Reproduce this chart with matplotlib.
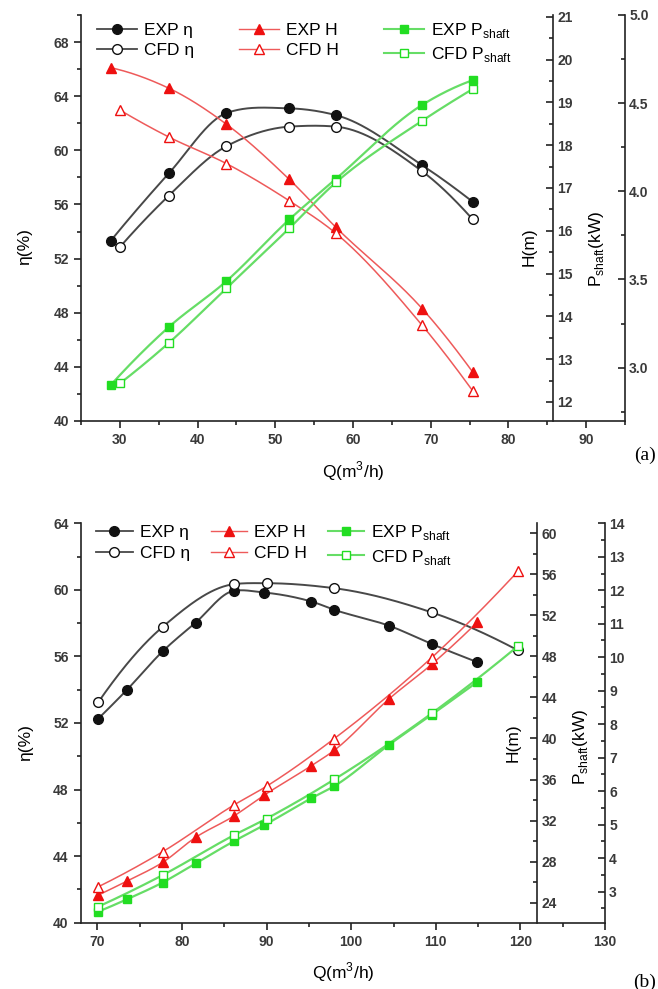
import numpy as np
import matplotlib
matplotlib.use("Agg")
import matplotlib.pyplot as plt
from matplotlib.lines import Line2D
from matplotlib.ticker import MultipleLocator

plt.rcParams['font.family'] = ['Liberation Sans', 'DejaVu Sans']
plt.rcParams['mathtext.fontset'] = 'custom'
plt.rcParams['mathtext.rm'] = 'Liberation Sans'

# ---------------- data: panel (a) ----------------
qa_exp = [28.8, 36.3, 43.7, 51.8, 57.8, 68.9, 75.4]
qa_cfd = [30.0, 36.3, 43.7, 51.8, 57.8, 68.9, 75.4]
eta_a_exp = [53.3, 58.3, 62.75, 63.1, 62.6, 58.9, 56.2]
eta_a_cfd = [52.85, 56.65, 60.3, 61.75, 61.75, 58.45, 54.9]
h_a_exp = [19.81, 19.33, 18.49, 17.2, 16.08, 14.18, 12.70]
h_a_cfd = [18.82, 18.19, 17.57, 16.70, 15.94, 13.79, 12.26]
p_a_exp = [2.90, 3.23, 3.49, 3.84, 4.07, 4.49, 4.63]
p_a_cfd = [2.91, 3.14, 3.45, 3.79, 4.05, 4.40, 4.58]

# ---------------- data: panel (b) ----------------
qb_exp = [70.1, 73.5, 77.7, 81.6, 86.1, 89.7, 95.3, 98.0, 104.5, 109.5, 114.9]
qb_cfd = [70.1, 77.7, 86.1, 90.0, 98.0, 109.5, 119.7]
eta_b_exp = [52.26, 54.0, 56.3, 58.03, 59.94, 59.84, 59.3, 58.8, 57.84, 56.75, 55.66]
eta_b_cfd = [53.25, 57.77, 60.34, 60.4, 60.1, 58.65, 56.37]
h_b_exp = [24.74, 26.11, 27.92, 30.36, 32.43, 34.47, 37.35, 38.85, 43.88, 47.22, 51.33]
h_b_cfd = [25.55, 28.96, 33.5, 35.35, 39.99, 47.87, 56.29]
p_b_exp = [2.40, 2.77, 3.27, 3.84, 4.50, 4.98, 5.79, 6.15, 7.39, 8.28, 9.26]
p_b_cfd = [2.55, 3.49, 4.68, 5.18, 6.35, 8.32, 10.33]

# ticks
xticks_a = [30, 40, 50, 60, 70, 80, 90]
xticks_b = [70, 80, 90, 100, 110, 120, 130]


def smooth(x, y, n=300):
    """Piecewise cubic Hermite curve through the data points (blend of
    monotone and three-point slopes)."""
    x = np.asarray(x, float); y = np.asarray(y, float)
    k = len(x); h = np.diff(x); dl = np.diff(y) / h
    dp = np.zeros(k)   # monotone (PCHIP) slopes
    dc = np.zeros(k)   # three-point slopes
    for i in range(1, k - 1):
        dc[i] = (h[i] * dl[i - 1] + h[i - 1] * dl[i]) / (h[i - 1] + h[i])
        if dl[i - 1] * dl[i] <= 0:
            dp[i] = 0.0
        else:
            w1 = 2 * h[i] + h[i - 1]; w2 = h[i] + 2 * h[i - 1]
            dp[i] = (w1 + w2) / (w1 / dl[i - 1] + w2 / dl[i])
    d = 0.5 * (dp + dc)

    def endslope(h0, h1, d0, d1):
        s = ((2 * h0 + h1) * d0 - h0 * d1) / (h0 + h1)
        if np.sign(s) != np.sign(d0):
            s = 0.0
        elif np.sign(d0) != np.sign(d1) and abs(s) > abs(3 * d0):
            s = 3 * d0
        return s
    d[0] = endslope(h[0], h[1], dl[0], dl[1])
    d[-1] = endslope(h[-1], h[-2], dl[-1], dl[-2])
    xs = np.linspace(x[0], x[-1], n)
    idx = np.clip(np.searchsorted(x, xs) - 1, 0, k - 2)
    t = (xs - x[idx]) / h[idx]
    h00 = 2 * t ** 3 - 3 * t ** 2 + 1
    h10 = t ** 3 - 2 * t ** 2 + t
    h01 = -2 * t ** 3 + 3 * t ** 2
    h11 = t ** 3 - t ** 2
    ys = h00 * y[idx] + h10 * h[idx] * d[idx] + h01 * y[idx + 1] + h11 * h[idx] * d[idx + 1]
    return xs, ys


W, H = 658, 989
fig = plt.figure(figsize=(W / 100, H / 100), dpi=100)

BLK_L, BLK_M = '#484848', '#111111'
RED_L, RED_M = '#ee5a5a', '#ee1010'
GRN_L, GRN_M = '#66dd66', '#22dd22'
TICKC = '#3a3a3a'
SPW = 1.2


def px_rect(l, r, b, t):
    return [l / W, 1 - b / H, (r - l) / W, (b - t) / H]


def set_tickfont(ax):
    for lab in ax.get_xticklabels() + ax.get_yticklabels():
        lab.set_fontweight('bold')


def style_main(ax):
    for s in ['top', 'right']:
        ax.spines[s].set_visible(False)
    for s in ['left', 'bottom']:
        ax.spines[s].set_linewidth(SPW)
        ax.spines[s].set_color('#222222')
    ax.tick_params(which='both', direction='out', colors='#222222', labelcolor=TICKC,
                   labelsize=10, width=SPW)
    ax.tick_params(which='major', length=5)
    ax.tick_params(which='minor', length=3)


def style_right(ax, pos):
    for s in ['top', 'left', 'bottom']:
        ax.spines[s].set_visible(False)
    ax.spines['right'].set_position(('axes', pos))
    ax.spines['right'].set_linewidth(SPW)
    ax.spines['right'].set_color('#222222')
    ax.tick_params(which='both', direction='in', colors='#222222', labelcolor=TICKC,
                   labelsize=10, width=SPW, pad=3)
    ax.tick_params(which='major', length=5)
    ax.tick_params(which='minor', length=3)
    ax.patch.set_visible(False)


def draw(ax, q, v, lc, mc, marker, filled, ms, lw):
    xs, ys = smooth(q, v)
    ax.plot(xs, ys, color=lc, lw=lw, zorder=2)
    ax.plot(q, v, linestyle='none', marker=marker, ms=ms,
            markerfacecolor=mc if filled else 'white', markeredgecolor=mc,
            markeredgewidth=1.0, zorder=3)


def legend_handles():
    hs = [
        Line2D([], [], color=BLK_L, lw=1.3, marker='o', ms=7, mfc=BLK_M, mec=BLK_M),
        Line2D([], [], color=BLK_L, lw=1.3, marker='o', ms=7, mfc='white', mec=BLK_M),
        Line2D([], [], color=RED_L, lw=1.0, marker='^', ms=7, mfc=RED_M, mec=RED_M),
        Line2D([], [], color=RED_L, lw=1.0, marker='^', ms=7, mfc='white', mec=RED_M),
        Line2D([], [], color=GRN_L, lw=1.5, marker='s', ms=6, mfc=GRN_M, mec=GRN_M),
        Line2D([], [], color=GRN_L, lw=1.5, marker='s', ms=6, mfc='white', mec=GRN_M),
    ]
    labels = ['EXP η', 'CFD η', 'EXP H', 'CFD H',
              r'EXP P$_{\mathrm{shaft}}$', r'CFD P$_{\mathrm{shaft}}$']
    return hs, labels


def panel(rect, xlim, xticks, ylim, yticks, hlim, hticks, hminor, plim, pticks, pminor,
          hpos, q_exp, q_cfd, e_exp, e_cfd, h_exp, h_cfd, p_exp, p_cfd,
          lab_eta_y, lab_h, lab_p, qlab_y, leg_anchor, leg_hl, leg_colsp, tag, tag_xy):
    ax = fig.add_axes(rect)
    style_main(ax)
    ax.set_xlim(*xlim); ax.set_ylim(*ylim)
    ax.set_xticks(xticks); ax.xaxis.set_minor_locator(MultipleLocator(5))
    ax.set_yticks(yticks); ax.yaxis.set_minor_locator(MultipleLocator(2))
    ax.patch.set_visible(False)

    axh = ax.twinx(); style_right(axh, hpos)
    axh.set_ylim(*hlim); axh.set_yticks(hticks)
    axh.yaxis.set_minor_locator(MultipleLocator(hminor))
    axp = ax.twinx(); style_right(axp, 1.0)
    axp.set_ylim(*plim); axp.set_yticks(pticks)
    axp.yaxis.set_minor_locator(MultipleLocator(pminor))
    axp.set_yticklabels([('%g' % t) if isinstance(t, int) else ('%.1f' % t) for t in pticks])
    for a in (ax, axh, axp):
        set_tickfont(a)

    draw(ax, q_exp, e_exp, BLK_L, BLK_M, 'o', True, 7, 1.4)
    draw(ax, q_cfd, e_cfd, BLK_L, BLK_M, 'o', False, 7, 1.4)
    draw(axh, q_exp, h_exp, RED_L, RED_M, '^', True, 7, 1.1)
    draw(axh, q_cfd, h_cfd, RED_L, RED_M, '^', False, 7, 1.1)
    draw(axp, q_exp, p_exp, GRN_L, GRN_M, 's', True, 6, 1.6)
    draw(axp, q_cfd, p_cfd, GRN_L, GRN_M, 's', False, 6, 1.6)

    ax.set_ylabel('η(%)', fontsize=12.5)
    ax.yaxis.set_label_coords(-0.09, lab_eta_y)
    ax.set_xlabel('Q(m$^3$/h)', fontsize=12.5)
    ax.xaxis.set_label_coords(0.5, qlab_y)
    axh.set_ylabel('H(m)', fontsize=12.5)
    axh.yaxis.set_label_coords(*lab_h)
    axp.set_ylabel(r'P$_{\mathrm{shaft}}$(kW)', fontsize=12.5)
    axp.yaxis.set_label_coords(*lab_p)

    hs, labels = legend_handles()
    axp.legend(hs, labels, ncol=3, loc='upper left', bbox_to_anchor=leg_anchor,
               frameon=False, fontsize=12.5, handlelength=leg_hl, handletextpad=0.4,
               columnspacing=leg_colsp, labelspacing=0.3, borderpad=0,
               borderaxespad=0)
    fig.text(tag_xy[0] / W, 1 - tag_xy[1] / H, tag, family=['Liberation Serif', 'DejaVu Serif'],
             fontsize=14, ha='center', va='center')
    return ax


panel(px_rect(81, 625, 421, 15), (25, 95), xticks_a, (40, 70), [40, 44, 48, 52, 56, 60, 64, 68],
      (11.556, 21.04), [12, 13, 14, 15, 16, 17, 18, 19, 20, 21], 0.5,
      (2.697, 5.0), [3.0, 3.5, 4.0, 4.5, 5.0], 0.25, 0.868,
      qa_exp, qa_cfd, eta_a_exp, eta_a_cfd, h_a_exp, h_a_cfd, p_a_exp, p_a_cfd,
      0.43, (0.81, 0.43), (0.93, 0.425), -0.095, (0.03, 0.985), 2.3, 2.6, '(a)', (645, 455))

panel(px_rect(80.5, 605, 922.7, 523.3), (68, 130), xticks_b, (40, 64), [40, 44, 48, 52, 56, 60, 64],
      (22.05, 60.97), [24, 28, 32, 36, 40, 44, 48, 52, 56, 60], 2,
      (2.07, 14.0), [3, 4, 5, 6, 7, 8, 9, 10, 11, 12, 13, 14], 0.5, 0.871,
      qb_exp, qb_cfd, eta_b_exp, eta_b_cfd, h_b_exp, h_b_cfd, p_b_exp, p_b_cfd,
      0.45, (0.81, 0.45), (0.935, 0.44), -0.095, (0.03, 1.0), 2.1, 1.2, '(b)', (645, 982))

fig.savefig('out.png', dpi=100)
